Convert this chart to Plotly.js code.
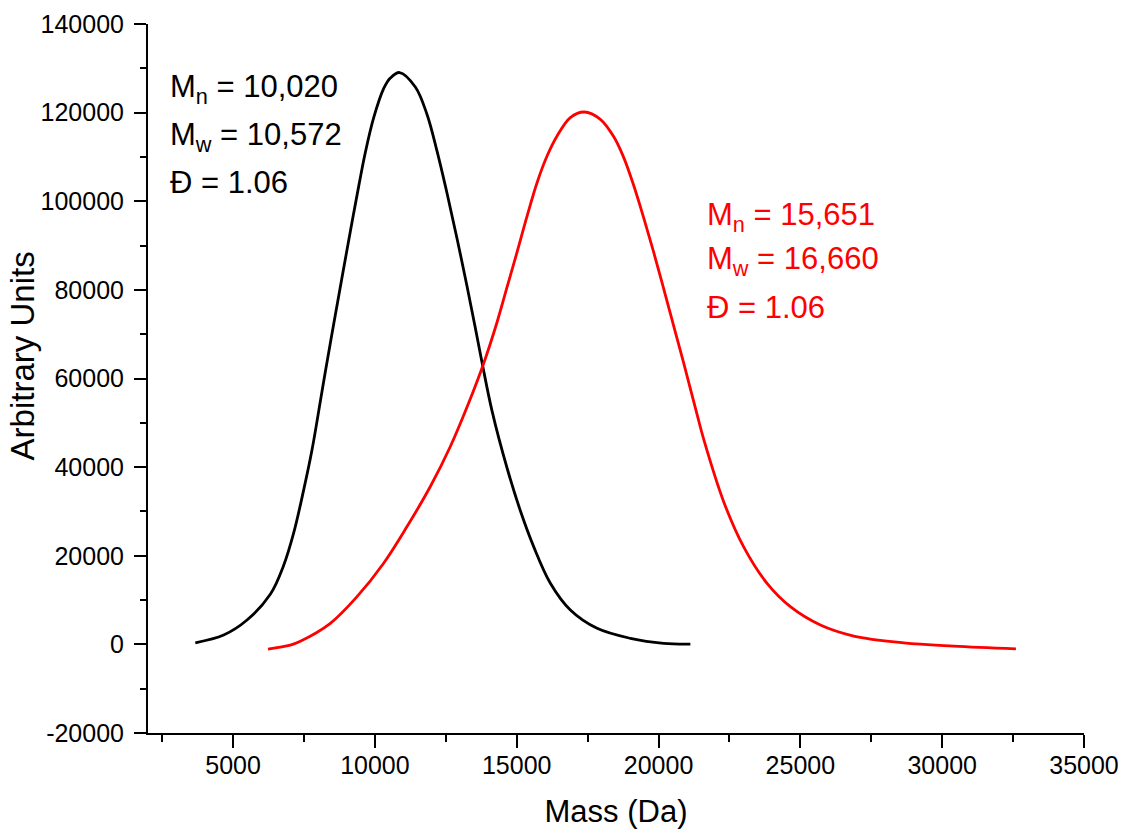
<!DOCTYPE html>
<html>
<head>
<meta charset="utf-8">
<script src="https://cdn.plot.ly/plotly-3.0.1.min.js"></script>
<style>html,body{margin:0;padding:0;background:#fff;}</style>
</head>
<body>
<div id="chart" style="width:1130px;height:831px;"></div>
<script>
// Sample 1 (black) – mass (Da) vs. intensity (arbitrary units)
var massBlack = [3668, 4666, 5491, 6312, 6781, 7134, 7487, 7783, 8075, 8252, 8544, 8840, 9133, 9426, 9662, 9955, 10307, 10543, 10871, 11425, 11838, 12190, 12543, 12895, 13248, 13541, 13777, 14129, 14659, 15128, 15597, 16186, 16891, 17832, 19006, 20181, 21122];
var unitsBlack = [360, 2100, 5490, 11300, 17800, 25090, 34800, 43910, 54800, 61500, 72200, 82800, 93200, 103300, 111000, 118800, 125400, 127800, 129050, 125780, 119580, 111300, 101800, 91600, 80800, 71400, 63600, 52700, 39800, 30150, 22060, 13790, 7750, 3620, 1360, 230, 70];

// Sample 2 (red)
var massRed = [6230, 7018, 7370, 8428, 9369, 10307, 11132, 11954, 12659, 13305, 13833, 14306, 14658, 15011, 15364, 15716, 16069, 16422, 16890, 17384, 17948, 18417, 18770, 19122, 19475, 19828, 20180, 20533, 20885, 21358, 21591, 22296, 23001, 23826, 24648, 25706, 26880, 28643, 30406, 32600];
var unitsRed = [-1050, -160, 700, 4750, 10760, 18310, 26580, 35620, 44660, 54470, 63400, 72700, 80600, 88500, 96640, 104190, 110200, 114720, 118880, 120140, 118490, 114600, 109900, 103600, 96300, 88500, 80300, 71900, 63510, 51900, 46300, 32200, 22000, 13760, 8500, 4360, 1880, 360, -380, -1000];

// Axis ticks
var yTickVals = [-20000, 0, 20000, 40000, 60000, 80000, 100000, 120000, 140000];
var yTickText = ["-20000", "0", "20000", "40000", "60000", "80000", "100000", "120000", "140000"];

// Text labels
var blackLabels = ["M<sub>n</sub> = 10,020", "M<sub>w</sub> = 10,572", "Đ = 1.06"];
var redLabels = ["M<sub>n</sub> = 15,651", "M<sub>w</sub> = 16,660", "Đ = 1.06"];
var yTitle = "Arbitrary Units";
var xTitle = "Mass (Da)";

var FONT = "'Liberation Sans', Arial, sans-serif";

var traces = [
  {x: massBlack, y: unitsBlack, type: 'scatter', mode: 'lines',
   line: {color: '#000000', width: 2.8, shape: 'spline', smoothing: 1}, hoverinfo: 'skip', showlegend: false},
  {x: massRed, y: unitsRed, type: 'scatter', mode: 'lines',
   line: {color: '#ff0000', width: 2.8, shape: 'spline', smoothing: 1}, hoverinfo: 'skip', showlegend: false}
];

var annotations = [];
var blackY = [125300, 114400, 104250];
var redY = [96460, 86620, 76120];
blackLabels.forEach(function(t, i){
  annotations.push({x: 2700, y: blackY[i], xref: 'x', yref: 'y', text: t, showarrow: false,
    xanchor: 'left', yanchor: 'middle', font: {family: FONT, size: 31, color: '#000000'}});
});
redLabels.forEach(function(t, i){
  annotations.push({x: 21650, y: redY[i], xref: 'x', yref: 'y', text: t, showarrow: false,
    xanchor: 'left', yanchor: 'middle', font: {family: FONT, size: 31, color: '#ff0000'}});
});
// y-axis title
annotations.push({x: -0.134, y: 0.532, xref: 'paper', yref: 'paper', text: yTitle, textangle: -90,
  showarrow: false, xanchor: 'center', yanchor: 'middle', font: {family: FONT, size: 33, color: '#000000'}});

var layout = {
  width: 1130, height: 831,
  margin: {l: 148, r: 46, t: 24, b: 98, pad: 0},
  paper_bgcolor: '#ffffff', plot_bgcolor: '#ffffff',
  font: {family: FONT, color: '#000000'},
  showlegend: false,
  xaxis: {
    range: [2000, 35000], dtick: 5000, tick0: 0, tickformat: 'd',
    showline: true, linecolor: '#000000', linewidth: 2,
    ticks: 'outside', ticklen: 13, tickwidth: 2, tickcolor: '#000000',
    ticklabelstandoff: -4,
    minor: {dtick: 2500, tick0: 0, ticks: 'outside', ticklen: 7, tickwidth: 2, tickcolor: '#000000', showgrid: false},
    showgrid: false, zeroline: false, mirror: false,
    tickfont: {family: FONT, size: 25, color: '#000000'},
    title: {text: xTitle, font: {family: FONT, size: 31, color: '#000000'}, standoff: 22}
  },
  yaxis: {
    range: [-20000, 140000], tickmode: 'array', tickvals: yTickVals, ticktext: yTickText,
    showline: true, linecolor: '#000000', linewidth: 2,
    ticks: 'outside', ticklen: 12, tickwidth: 2, tickcolor: '#000000',
    ticklabelstandoff: 5,
    minor: {tickmode: 'linear', dtick: 10000, tick0: 0, ticks: 'outside', ticklen: 6, tickwidth: 2, tickcolor: '#000000', showgrid: false},
    showgrid: false, zeroline: false, mirror: false,
    tickfont: {family: FONT, size: 25, color: '#000000'}
  },
  annotations: annotations
};

Plotly.newPlot('chart', traces, layout, {displayModeBar: false, staticPlot: true});
</script>
</body>
</html>
